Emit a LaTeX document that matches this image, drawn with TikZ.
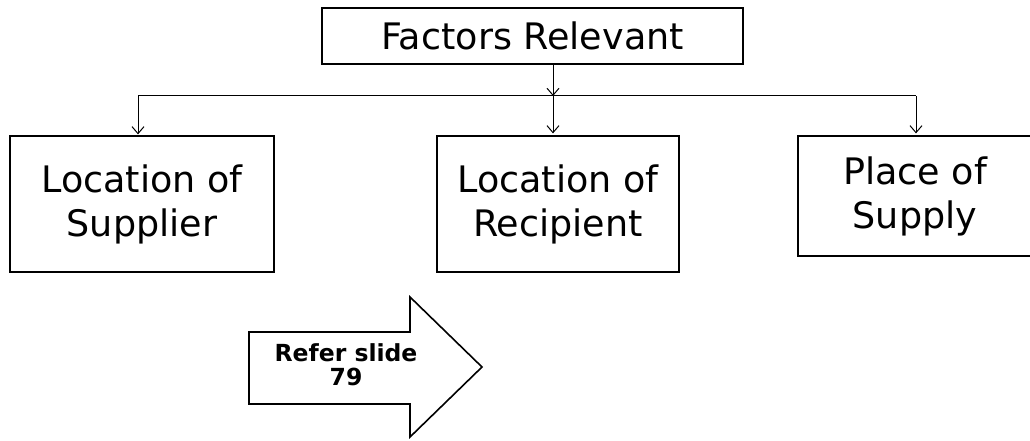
\documentclass[tikz,border=0pt]{standalone}
\usepackage{fontspec}
\setmainfont{DejaVu Sans}
\usetikzlibrary{arrows.meta}
\tikzset{
  box/.style={draw=black, line width=1.2pt, fill=white, inner sep=0pt,
    align=center, font=\fontsize{36.5}{44}\selectfont},
  conn/.style={draw=black, line width=1pt,
    -{Straight Barb[length=7pt,width=12pt]}},
  link/.style={draw=black, line width=1pt},
  bigarrow/.style={draw=black, line width=1.6pt, fill=white, line join=miter},
  arrowtext/.style={align=center, inner sep=0pt,
    font=\bfseries\fontsize{23.5}{24}\selectfont}
}
\begin{document}
\begin{tikzpicture}[x=1pt, y=-1pt]
  \useasboundingbox[fill=white] (0,0) rectangle (1030,441);

  % boxes
  \node[box, minimum width=421pt, minimum height=56pt] (top) at (532.5,36) {Factors Relevant};
  \node[box, minimum width=264pt, minimum height=136pt] (left) at (142,204) {Location of\\ Supplier};
  \node[box, minimum width=242pt, minimum height=136pt] (mid) at (558,204) {Location of\\ Recipient};
  \node[box, minimum width=234pt, minimum height=120pt] (right) at (915,196) {Place of\\ Supply};

  % branching connectors
  \coordinate (j) at (553,96);
  \coordinate (jl) at (138,96);
  \coordinate (jr) at (916,96);
  \draw[link] (jl) -- (jr);
  \draw[conn] (top.south -| j) -- (j);
  \draw[conn, shorten >=2pt] (j) -- (j |- mid.north);
  \draw[conn, shorten >=1pt] (jl) -- (jl |- left.north);
  \draw[conn, shorten >=2pt] (jr) -- (jr |- right.north);

  % block arrow with reference note
  \draw[bigarrow] (249,332) -- (410,332) -- (410,297) -- (482,367)
    -- (410,437) -- (410,404) -- (249,404) -- cycle;
  \node[arrowtext] (note) at (346,365) {Refer slide\\ 79};
\end{tikzpicture}
\end{document}
